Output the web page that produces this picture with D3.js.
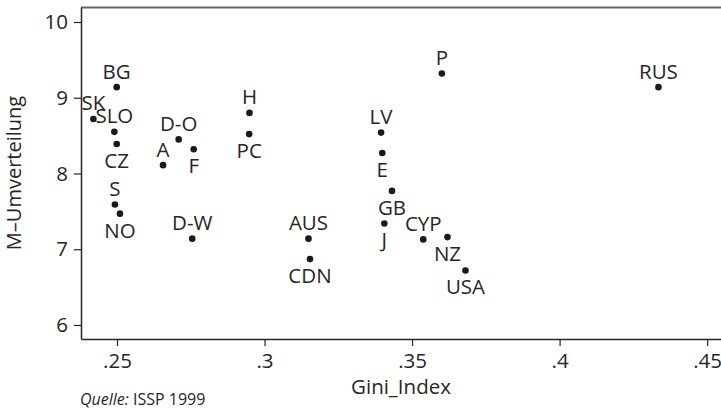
<!DOCTYPE html>
<html>
<head>
<meta charset="utf-8">
<script src="https://cdn.jsdelivr.net/npm/d3@7"></script>
<style>
  html, body { margin: 0; padding: 0; background: #fff; }
  svg { display: block; font-family: "Open Sans", sans-serif; }
</style>
</head>
<body>
<svg id="chart" width="721" height="409"></svg>
<script>
// ---- data ----
const countries = ["BG","SK","SLO","CZ","D-O","F","A","S","NO","D-W","H","PC","AUS","CDN","P","LV","E","GB","J","CYP","NZ","USA","RUS"];
const gini      = [0.2499,0.2420,0.2491,0.2499,0.2709,0.2760,0.2656,0.2493,0.2510,0.2755,0.2949,0.2948,0.3149,0.3154,0.3601,0.3395,0.3399,0.3432,0.3406,0.3538,0.3620,0.3681,0.4335];
const umvert    = [9.14,8.72,8.55,8.39,8.45,8.32,8.11,7.59,7.47,7.14,8.80,8.52,7.14,6.87,9.32,8.54,8.27,7.77,7.34,7.13,7.16,6.72,9.14];
const labelPos  = ["above","above","above","below","above","below","above","above","below","above","above","below","above","below","above","above","below","below","below","above","below","below","above"];
const xTicks = [0.25, 0.30, 0.35, 0.40, 0.45];
const yTicks = [6, 7, 8, 9, 10];
const xTitle = "Gini_Index";
const yTitle = "M\u2013Umverteilung";
const note = ["Quelle:", " ISSP 1999"];

(function () {
const points = countries.map((c, i) => ({ name: c, x: gini[i], y: umvert[i], pos: labelPos[i] }));

// ---- layout ----
const svg = d3.select("#chart");
const pl = 81, pr = 721, pt = 7, pb = 339;
const x = d3.scaleLinear().domain([0.2378, 0.4547]).range([pl, pr]);
const y = d3.scaleLinear().domain([5.815, 10.198]).range([pb, pt]);
const ink = "#262626";
const fs = 20.5;

svg.append("line")
  .attr("x1", pl).attr("x2", pr).attr("y1", pt + 0.5).attr("y2", pt + 0.5)
  .attr("stroke", "#666").attr("stroke-width", 2);

const fmtX = d => d3.format(".2~f")(d).replace(/^0/, "");
const gx = svg.append("g").attr("transform", `translate(0,${pb})`)
  .call(d3.axisBottom(x).tickValues(xTicks).tickFormat(fmtX).tickSize(7).tickPadding(7).tickSizeOuter(0));
gx.select(".domain").attr("stroke", ink).attr("stroke-width", 1.5);
gx.selectAll(".tick line").attr("stroke", ink).attr("stroke-width", 1.2);
gx.selectAll(".tick text").attr("fill", ink).attr("font-size", fs).attr("font-family", "Open Sans");

const gy = svg.append("g").attr("transform", `translate(${pl},0)`)
  .call(d3.axisLeft(y).tickValues(yTicks).tickFormat(d3.format("d")).tickSize(7).tickPadding(6).tickSizeOuter(0));
gy.select(".domain").attr("stroke", ink).attr("stroke-width", 1.5);
gy.selectAll(".tick line").attr("stroke", ink).attr("stroke-width", 1.2);
gy.selectAll(".tick text").attr("fill", ink).attr("font-size", fs).attr("font-family", "Open Sans");

svg.append("text")
  .attr("x", (pl + pr) / 2).attr("y", 394)
  .attr("text-anchor", "middle").attr("fill", ink).attr("font-size", fs)
  .text(xTitle);
svg.append("text")
  .attr("transform", `translate(21,173) rotate(-90)`)
  .attr("text-anchor", "middle").attr("fill", ink).attr("font-size", 20)
  .text(yTitle);

svg.append("g").selectAll("circle").data(points).join("circle")
  .attr("cx", d => x(d.x)).attr("cy", d => y(d.y)).attr("r", 3.3)
  .attr("fill", "#1a1a1a");

svg.append("g").selectAll("text").data(points).join("text")
  .attr("x", d => x(d.x))
  .attr("y", d => d.pos === "above" ? y(d.y) - 8.5 : y(d.y) + 24)
  .attr("text-anchor", "middle").attr("fill", ink).attr("font-size", fs)
  .text(d => d.name);

const t = svg.append("text").attr("x", 80).attr("y", 405).attr("fill", ink).attr("font-size", 16);
t.append("tspan").attr("font-style", "italic").text(note[0]);
t.append("tspan").text(note[1]);
})();
</script>
</body>
</html>
